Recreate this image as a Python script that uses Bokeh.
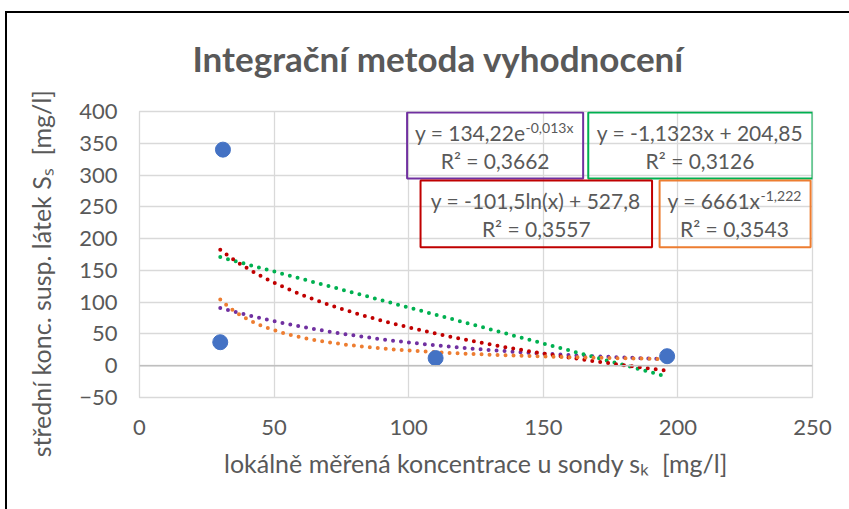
import numpy as np
from bokeh.plotting import figure
from bokeh.models import Range1d, FixedTicker, Span, InlineStyleSheet
from bokeh.core.properties import value
from bokeh.embed import file_html
from bokeh.resources import INLINE

# ---- data ----
x_vals = [31, 30, 110, 196]
y_vals = [340, 37, 12, 15]

x_ticks = [0, 50, 100, 150, 200, 250]
y_ticks = [-50, 0, 50, 100, 150, 200, 250, 300, 350, 400]

exp_coef = [134.22, -0.013]
lin_coef = [-1.1323, 204.85]
log_coef = [-101.5, 527.8]
pow_coef = [6661.0, -1.222]

exp_eq = ["y = 134,22e", "-0,013x", "R² = 0,3662"]
lin_eq = ["y = -1,1323x + 204,85", "R² = 0,3126"]
log_eq = ["y = -101,5ln(x) + 527,8", "R² = 0,3557"]
pow_eq = ["y = 6661x", "-1,222", "R² = 0,3543"]

title_text = "Integrační metoda vyhodnocení"
NB = "\u00a0"
y_title = "střední konc. susp. látek Sₛ" + NB + " [mg/l]" + NB * 6
x_title = "lokálně měřená koncentrace u sondy sₖ" + NB + " [mg/l]"

# ---- styles ----
FONT = "Lato"
GREY = "#595959"
C_EXP = "#7030A0"
C_LIN = "#00B050"
C_LOG = "#C00000"
C_POW = "#ED7D31"
C_PT = "#4472C4"

p = figure(width=849, height=509, output_backend="svg", toolbar_location=None,
           x_range=Range1d(0, 250), y_range=Range1d(-50, 400),
           min_border_left=139, min_border_right=37, min_border_top=111, min_border_bottom=112)
p.background_fill_color = "white"
p.border_fill_color = "white"
p.outline_line_color = "#d9d9d9"
p.outline_line_width = 1.3

# title
p.title.text = title_text
p.title.text_font = FONT
p.title.text_font_size = "35px"
p.title.text_font_style = "bold"
p.title.text_color = GREY
p.title.align = "left"
p.title.offset = 53
p.title.standoff = 65

for ax in (p.xaxis[0], p.yaxis[0]):
    ax.axis_line_color = None
    ax.major_tick_line_color = None
    ax.minor_tick_line_color = None
    ax.major_tick_out = 0
    ax.major_tick_in = 0
    ax.minor_tick_out = 0
    ax.major_label_text_font = FONT
    ax.major_label_text_font_size = "22px"
    ax.major_label_text_color = GREY
    ax.axis_label_text_font = FONT
    ax.axis_label_text_font_style = "normal"
    ax.axis_label_text_color = GREY
p.xaxis.ticker = FixedTicker(ticks=x_ticks)
p.yaxis.ticker = FixedTicker(ticks=y_ticks)
p.xaxis.major_label_standoff = 22
p.yaxis.major_label_standoff = 22
p.xaxis.axis_label = x_title
p.yaxis.axis_label = y_title
p.xaxis.axis_label_text_font_size = "25px"
p.yaxis.axis_label_text_font_size = "25px"
p.xaxis.axis_label_standoff = 10
p.yaxis.axis_label_standoff = 20

p.xgrid.ticker = FixedTicker(ticks=x_ticks)
p.ygrid.ticker = FixedTicker(ticks=y_ticks)
for g in (p.xgrid[0], p.ygrid[0]):
    g.grid_line_color = "#d9d9d9"
    g.grid_line_width = 1.3

p.add_layout(Span(location=0, dimension="width", line_color="#bfbfbf", line_width=1.5))

# trendlines
xs = np.linspace(min(x_vals), max(x_vals), 300)
trends = [
    (exp_coef[0] * np.exp(exp_coef[1] * xs), C_EXP),
    (lin_coef[0] * xs + lin_coef[1], C_LIN),
    (log_coef[0] * np.log(xs) + log_coef[1], C_LOG),
    (pow_coef[0] * xs ** pow_coef[1], C_POW),
]
for ys, c in trends:
    p.line(xs, ys, line_color=c, line_width=4, line_dash="0 8", line_cap="round")

p.scatter(x_vals, y_vals, size=15, fill_color=C_PT, line_color=C_PT, marker="circle")

# equation boxes
p.quad(left=[99.4, 166.7, 104.4, 193.2], right=[164.8, 250.0, 190.4, 249.3],
       top=[398.4, 398.4, 291.4, 291.4], bottom=[294.5, 294.5, 186.4, 186.4],
       fill_alpha=0, line_color=[C_EXP, C_LIN, C_LOG, C_POW], line_width=2)

def txt(x, y, s, size="21px", align="center", baseline="middle"):
    p.text(x=[x], y=[y], text=[s], text_font=value(FONT), text_font_size=size,
           text_color=GREY, text_align=align, text_baseline=baseline)

txt(143.4, 367.4, exp_eq[0], align="right")
txt(143.4, 375.2, exp_eq[1], size="14px", align="left")
txt(132.1, 322.8, exp_eq[2])

txt(208.2, 367.4, lin_eq[0])
txt(208.2, 322.8, lin_eq[1])

txt(147.2, 259.9, log_eq[0])
txt(147.4, 215.8, log_eq[1])

txt(230.7, 259.9, pow_eq[0], align="right")
txt(230.7, 267.5, pow_eq[1], size="14px", align="left")
txt(221.0, 215.8, pow_eq[2])

# outer chart border (only top and left edges are visible in the picture)
p.stylesheets = [InlineStyleSheet(css=(
    ":host { overflow: hidden; } "
    ":host::after { content: ''; position: absolute; left: 5px; top: 11px; "
    "width: 2000px; height: 2000px; border-top: 2.5px solid #000; border-left: 2.5px solid #000; "
    "pointer-events: none; z-index: 100; }"))]

open("out.html", "w").write(file_html(p, INLINE))
